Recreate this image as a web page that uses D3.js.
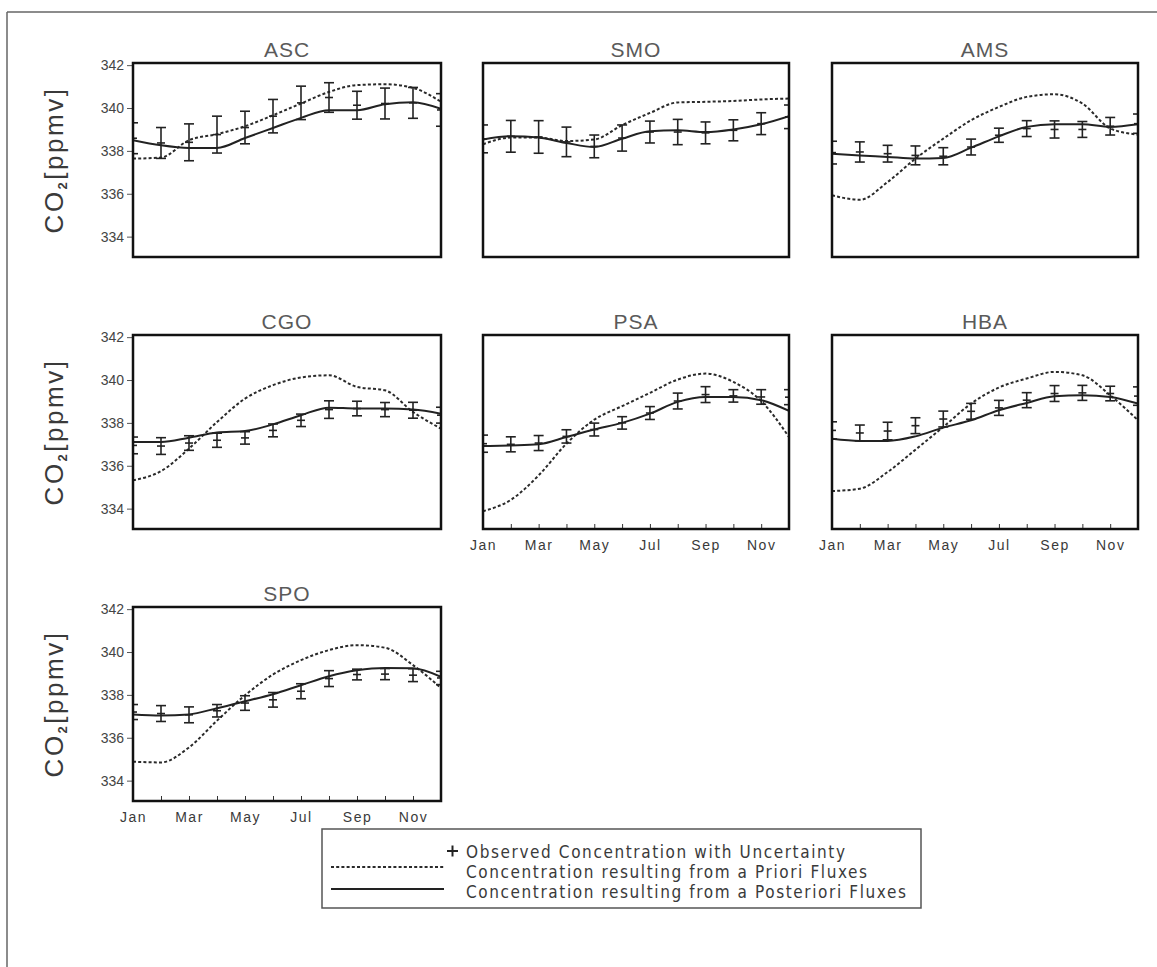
<!DOCTYPE html>
<html>
<head>
<meta charset="utf-8">
<script src="https://cdn.jsdelivr.net/npm/d3@7"></script>
<style>
  html, body { margin: 0; padding: 0; background: #fff; }
  svg { display: block; }
</style>
</head>
<body>
<svg id="chart" width="1157" height="967"></svg>
<script>
// Monthly CO2 at seven stations: observed values with uncertainty,
// and model concentrations from a priori and a posteriori fluxes.
const months = ["Jan","Feb","Mar","Apr","May","Jun","Jul","Aug","Sep","Oct","Nov","Dec"];
const monthTickLabels = ["Jan","Mar","May","Jul","Sep","Nov"];
const yTickValues = [334, 336, 338, 340, 342];
const stations = ["ASC","SMO","AMS","CGO","PSA","HBA","SPO"];

const ascObs   = [338.59,338.37,338.40,338.76,339.09,339.62,340.24,340.49,340.13,340.21,340.24,339.91];
const ascErr   = [0.72,0.72,0.86,0.86,0.76,0.78,0.78,0.69,0.65,0.72,0.72,0.76];
const ascPrior = [337.64,337.69,338.50,338.78,339.15,339.66,340.21,340.75,341.07,341.11,340.94,340.29];
const ascPost  = [338.50,338.26,338.14,338.14,338.60,339.07,339.54,339.90,339.90,340.18,340.27,339.96];

const smoObs   = [338.56,338.68,338.65,338.42,338.21,338.60,338.88,338.88,338.84,338.96,339.27,339.59];
const smoErr   = [0.65,0.74,0.76,0.69,0.53,0.61,0.51,0.59,0.51,0.49,0.51,0.55];
const smoPrior = [338.31,338.62,338.62,338.46,338.53,339.20,339.77,340.26,340.29,340.33,340.40,340.44];
const smoPost  = [338.53,338.68,338.62,338.37,338.18,338.57,338.92,338.96,338.88,339.00,339.24,339.62];

const amsObs   = [337.92,337.95,337.87,337.79,337.75,338.18,338.73,339.04,339.00,339.00,339.15,339.27];
const amsErr   = [0.53,0.47,0.39,0.44,0.40,0.37,0.33,0.37,0.40,0.37,0.41,0.45];
const amsPrior = [335.93,335.72,336.55,337.64,338.57,339.43,340.05,340.52,340.64,340.21,339.05,338.76];
const amsPost  = [337.87,337.79,337.72,337.64,337.67,338.15,338.68,339.12,339.24,339.24,339.12,339.24];

const cgoObs   = [336.95,336.92,337.06,337.19,337.30,337.65,338.12,338.62,338.67,338.62,338.59,338.36];
const cgoErr   = [0.39,0.39,0.34,0.33,0.29,0.30,0.29,0.41,0.34,0.33,0.37,0.37];
const cgoPrior = [335.32,335.75,336.80,338.04,339.13,339.76,340.12,340.22,339.68,339.52,338.51,337.73];
const cgoPost  = [337.11,337.11,337.31,337.55,337.62,337.93,338.36,338.71,338.67,338.67,338.62,338.43];

const psaObs   = [337.03,337.00,337.06,337.37,337.69,338.00,338.46,339.02,339.32,339.26,339.21,339.20];
const psaErr   = [0.40,0.35,0.35,0.31,0.30,0.29,0.30,0.37,0.37,0.29,0.34,0.35];
const psaPrior = [333.88,334.41,335.55,337.03,338.15,338.78,339.40,340.02,340.30,339.91,339.02,337.34];
const psaPost  = [336.92,336.95,337.00,337.34,337.69,338.00,338.43,338.98,339.21,339.21,339.06,338.56];

const hbaObs   = [337.65,337.53,337.62,337.87,338.18,338.54,338.70,339.06,339.37,339.40,339.37,339.25];
const hbaErr   = [0.40,0.37,0.41,0.37,0.37,0.37,0.35,0.35,0.37,0.35,0.34,0.43];
const hbaPrior = [334.82,334.93,335.71,336.75,337.81,338.90,339.65,340.07,340.38,340.22,339.29,338.12];
const hbaPost  = [337.26,337.16,337.16,337.37,337.78,338.12,338.59,338.93,339.24,339.29,339.21,338.90];

const spoObs   = [337.20,337.13,337.07,337.26,337.62,337.77,338.17,338.76,338.95,338.97,338.92,338.79];
const spoErr   = [0.35,0.37,0.37,0.29,0.34,0.34,0.35,0.37,0.25,0.26,0.30,0.31];
const spoPrior = [334.88,334.85,335.55,336.80,337.98,338.95,339.62,340.09,340.32,340.20,339.39,338.32];
const spoPost  = [337.09,337.04,337.09,337.38,337.70,338.03,338.45,338.87,339.15,339.26,339.24,338.84];

const legendLabels = [
  "Observed Concentration with Uncertainty",
  "Concentration resulting from a Priori Fluxes",
  "Concentration resulting from a Posteriori Fluxes"
];

// station -> series lookup built from the arrays above
const series = {
  ASC: {obs: ascObs, err: ascErr, prior: ascPrior, post: ascPost},
  SMO: {obs: smoObs, err: smoErr, prior: smoPrior, post: smoPost},
  AMS: {obs: amsObs, err: amsErr, prior: amsPrior, post: amsPost},
  CGO: {obs: cgoObs, err: cgoErr, prior: cgoPrior, post: cgoPost},
  PSA: {obs: psaObs, err: psaErr, prior: psaPrior, post: psaPost},
  HBA: {obs: hbaObs, err: hbaErr, prior: hbaPrior, post: hbaPost},
  SPO: {obs: spoObs, err: spoErr, prior: spoPrior, post: spoPost}
};

// ---- layout ----
const colLeft  = [133, 483, 832];
const colWidth = [308, 306, 306];
const rowTop   = [63, 335, 607];
const panelH   = 194;
const grid = {
  ASC: {c: 0, r: 0}, SMO: {c: 1, r: 0}, AMS: {c: 2, r: 0},
  CGO: {c: 0, r: 1}, PSA: {c: 1, r: 1}, HBA: {c: 2, r: 1},
  SPO: {c: 0, r: 2}
};
// panels that carry the month axis (nothing below them)
const withMonthAxis = new Set(["PSA","HBA","SPO"]);

const svg = d3.select("#chart");
const ink = "#222";
const sans = "'Liberation Sans', Arial, sans-serif";

// page border
svg.append("line").attr("x1", 7).attr("x2", 1157).attr("y1", 12).attr("y2", 12)
  .attr("stroke", "#666").attr("stroke-width", 1.5);
svg.append("line").attr("x1", 7).attr("x2", 7).attr("y1", 12).attr("y2", 967)
  .attr("stroke", "#666").attr("stroke-width", 1.5);

const defs = svg.append("defs");

stations.forEach((name, si) => {
  const {c, r} = grid[name];
  const left = colLeft[c], top = rowTop[r], w = colWidth[c];
  const x = d3.scaleLinear().domain([0, months.length - 1]).range([0, w]);
  const y = d3.scaleLinear().domain([333.05, 342.1]).range([panelH, 0]);
  const d = series[name];

  const g = svg.append("g").attr("transform", `translate(${left},${top})`);

  defs.append("clipPath").attr("id", "clip" + si)
    .append("rect").attr("x", 0).attr("y", 0).attr("width", w).attr("height", panelH);

  const plot = g.append("g").attr("clip-path", `url(#clip${si})`);

  const line = vals => d3.line()
    .x((v, i) => x(i)).y(v => y(v))
    .curve(d3.curveMonotoneX)(vals);

  // a priori model curve
  plot.append("path").attr("d", line(d.prior))
    .attr("fill", "none").attr("stroke", "#2a2a2a")
    .attr("stroke-width", 2).attr("stroke-dasharray", "3,2.2");

  // a posteriori model curve
  plot.append("path").attr("d", line(d.post))
    .attr("fill", "none").attr("stroke", ink).attr("stroke-width", 2);

  // observations with uncertainty bars
  const cap = 5;
  const bars = plot.selectAll("g.obs").data(d.obs).join("g").attr("class", "obs")
    .attr("stroke", ink).attr("stroke-width", 1.6);
  bars.append("line")
    .attr("x1", (v, i) => x(i)).attr("x2", (v, i) => x(i))
    .attr("y1", (v, i) => y(v - d.err[i])).attr("y2", (v, i) => y(v + d.err[i]));
  bars.append("line")
    .attr("x1", (v, i) => x(i) - cap).attr("x2", (v, i) => x(i) + cap)
    .attr("y1", (v, i) => y(v + d.err[i])).attr("y2", (v, i) => y(v + d.err[i]));
  bars.append("line")
    .attr("x1", (v, i) => x(i) - cap).attr("x2", (v, i) => x(i) + cap)
    .attr("y1", (v, i) => y(v - d.err[i])).attr("y2", (v, i) => y(v - d.err[i]));
  bars.append("line")
    .attr("x1", (v, i) => x(i) - cap + 1).attr("x2", (v, i) => x(i) + cap - 1)
    .attr("y1", v => y(v)).attr("y2", v => y(v));

  // y axis with labels on the first column only
  if (c === 0) {
    const ya = g.append("g").call(d3.axisLeft(y).tickValues(yTickValues)
      .tickSize(6).tickPadding(3).tickFormat(d3.format("d")));
    ya.select(".domain").remove();
    ya.selectAll("line").attr("stroke", "#555");
    ya.selectAll("text").attr("fill", "#444")
      .style("font-family", sans)
      .style("font-size", "14px");

    const lab = g.append("text")
      .attr("transform", `translate(${63 - left},${panelH / 2}) rotate(-90)`)
      .attr("text-anchor", "middle")
      .attr("fill", "#3a3a3a")
      .style("font-family", sans)
      .style("font-size", "26px")
      .style("letter-spacing", "2.5px");
    lab.append("tspan").text("CO");
    lab.append("tspan").attr("dy", 4).style("font-size", "13px").style("font-weight", "bold").text("2");
    lab.append("tspan").attr("dy", -4).text("[ppmv]");
  }

  // month axis: inward ticks + labels
  if (withMonthAxis.has(name)) {
    const xa = g.append("g").attr("transform", `translate(0,${panelH})`)
      .call(d3.axisBottom(x).tickValues(d3.range(months.length))
        .tickSize(-5).tickPadding(8)
        .tickFormat(i => monthTickLabels.includes(months[i]) ? months[i] : ""));
    xa.select(".domain").remove();
    xa.selectAll("line").attr("stroke", "#333");
    xa.selectAll("text").attr("fill", "#3a3a3a")
      .attr("dy", "0.95em")
      .style("font-family", sans)
      .style("font-size", "14px")
      .style("letter-spacing", "1.5px");
  }

  // panel frame
  g.append("rect").attr("x", 0).attr("y", 0).attr("width", w).attr("height", panelH)
    .attr("fill", "none").attr("stroke", "#111").attr("stroke-width", 2.5);

  // station title
  g.append("text").attr("x", w / 2).attr("y", -6)
    .attr("text-anchor", "middle").attr("fill", "#5a5a5a")
    .style("font-family", sans)
    .style("font-size", "21px")
    .style("letter-spacing", "1px")
    .text(name);
});

// ---- legend ----
const lg = svg.append("g");
lg.append("rect").attr("x", 322).attr("y", 829).attr("width", 599).attr("height", 79)
  .attr("fill", "none").attr("stroke", "#555").attr("stroke-width", 1.5);

const textX = 466;
const rowY = [858, 878, 898];
lg.append("g").attr("stroke", ink).attr("stroke-width", 2)
  .call(s => {
    s.append("line").attr("x1", 447).attr("x2", 458).attr("y1", 851).attr("y2", 851);
    s.append("line").attr("x1", 452.5).attr("x2", 452.5).attr("y1", 845.5).attr("y2", 856.5);
  });
lg.append("line").attr("x1", 331).attr("x2", 444).attr("y1", 867).attr("y2", 867)
  .attr("stroke", "#2a2a2a").attr("stroke-width", 2).attr("stroke-dasharray", "3,2.2");
lg.append("line").attr("x1", 331).attr("x2", 444).attr("y1", 889).attr("y2", 889)
  .attr("stroke", ink).attr("stroke-width", 2);

lg.selectAll("text.leg").data(legendLabels).join("text").attr("class", "leg")
  .attr("x", textX).attr("y", (d, i) => rowY[i])
  .attr("fill", "#3a3a3a")
  .style("font-family", "'Liberation Sans Narrow', 'DejaVu Sans Condensed', sans-serif")
  .style("font-size", "17px")
  .style("letter-spacing", "1.6px")
  .text(d => d);
</script>
</body>
</html>
